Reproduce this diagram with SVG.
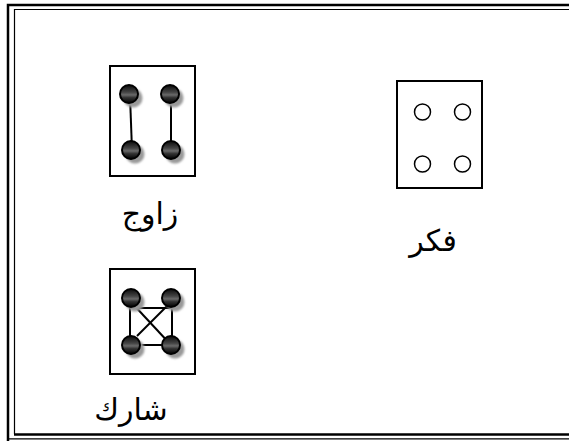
<svg xmlns="http://www.w3.org/2000/svg" width="569" height="441" viewBox="0 0 569 441">
<defs>
<linearGradient id="ball" x1="0" y1="0" x2="0" y2="1">
<stop offset="0" stop-color="#0a0a0a"/>
<stop offset="0.4" stop-color="#444"/>
<stop offset="0.55" stop-color="#6a6a6a"/>
<stop offset="0.7" stop-color="#333"/>
<stop offset="1" stop-color="#000"/>
</linearGradient>
<filter id="blur" x="-50%" y="-50%" width="200%" height="200%"><feGaussianBlur stdDeviation="1"/></filter>
<g id="dot">
<circle cx="4" cy="4" r="9.5" fill="#9a9a9a" filter="url(#blur)"/>
<circle cx="0" cy="0" r="9" fill="url(#ball)" stroke="#000" stroke-width="2"/>
</g>
</defs>
<style>
.box{fill:#fff;stroke:#000;stroke-width:2}
.edge{stroke:#000;stroke-width:2;fill:none}
.ring{fill:none;stroke:#000;stroke-width:1.5}
.lbl{font-family:"DejaVu Sans","Liberation Sans",sans-serif;font-size:30px;fill:#000;text-anchor:middle}
</style>
<rect width="569" height="441" fill="#fff"/>
<g id="frame" fill="none" stroke="#000">
<path d="M8,441 V5 H569" stroke-width="2.5"/>
<path d="M14.5,434 V9.5 H569" stroke-width="1.2"/>
<path d="M14,434.5 H569" stroke-width="2.5"/>
<path d="M8,438.8 H569" stroke-width="1.2"/>
</g>
<g id="zawj">
<rect class="box" x="110" y="66" width="85" height="110"/>
<g id="connectors-zawj">
<line class="edge" x1="130" y1="96" x2="132" y2="150"/>
<line class="edge" x1="171" y1="96" x2="171" y2="150"/>
</g>
<use href="#dot" x="129" y="94"/>
<use href="#dot" x="170" y="94"/>
<use href="#dot" x="131" y="150"/>
<use href="#dot" x="171" y="150"/>
<text class="lbl" x="150" y="224">زاوج</text>
</g>
<g id="fikr">
<rect class="box" x="397" y="81" width="85" height="107"/>
<circle class="ring" cx="422.5" cy="112" r="8"/>
<circle class="ring" cx="462.5" cy="112" r="8"/>
<circle class="ring" cx="422.5" cy="164" r="8"/>
<circle class="ring" cx="462.5" cy="164" r="8"/>
<text class="lbl" x="433" y="251">فكر</text>
</g>
<g id="sharik">
<rect class="box" x="110" y="269" width="85" height="105"/>
<g id="connectors-sharik">
<line class="edge" x1="130" y1="298" x2="130" y2="345"/>
<line class="edge" x1="172" y1="298" x2="172" y2="345"/>
<line class="edge" x1="131" y1="308" x2="171" y2="308"/>
<line class="edge" x1="131" y1="345" x2="171" y2="345"/>
<line class="edge" x1="131" y1="302" x2="171" y2="345"/>
<line class="edge" x1="171" y1="302" x2="137" y2="336"/>
</g>
<use href="#dot" x="131" y="298"/>
<use href="#dot" x="171" y="298"/>
<use href="#dot" x="131" y="345"/>
<use href="#dot" x="171" y="345"/>
<text class="lbl" x="131" y="420">شارك</text>
</g>
</svg>
